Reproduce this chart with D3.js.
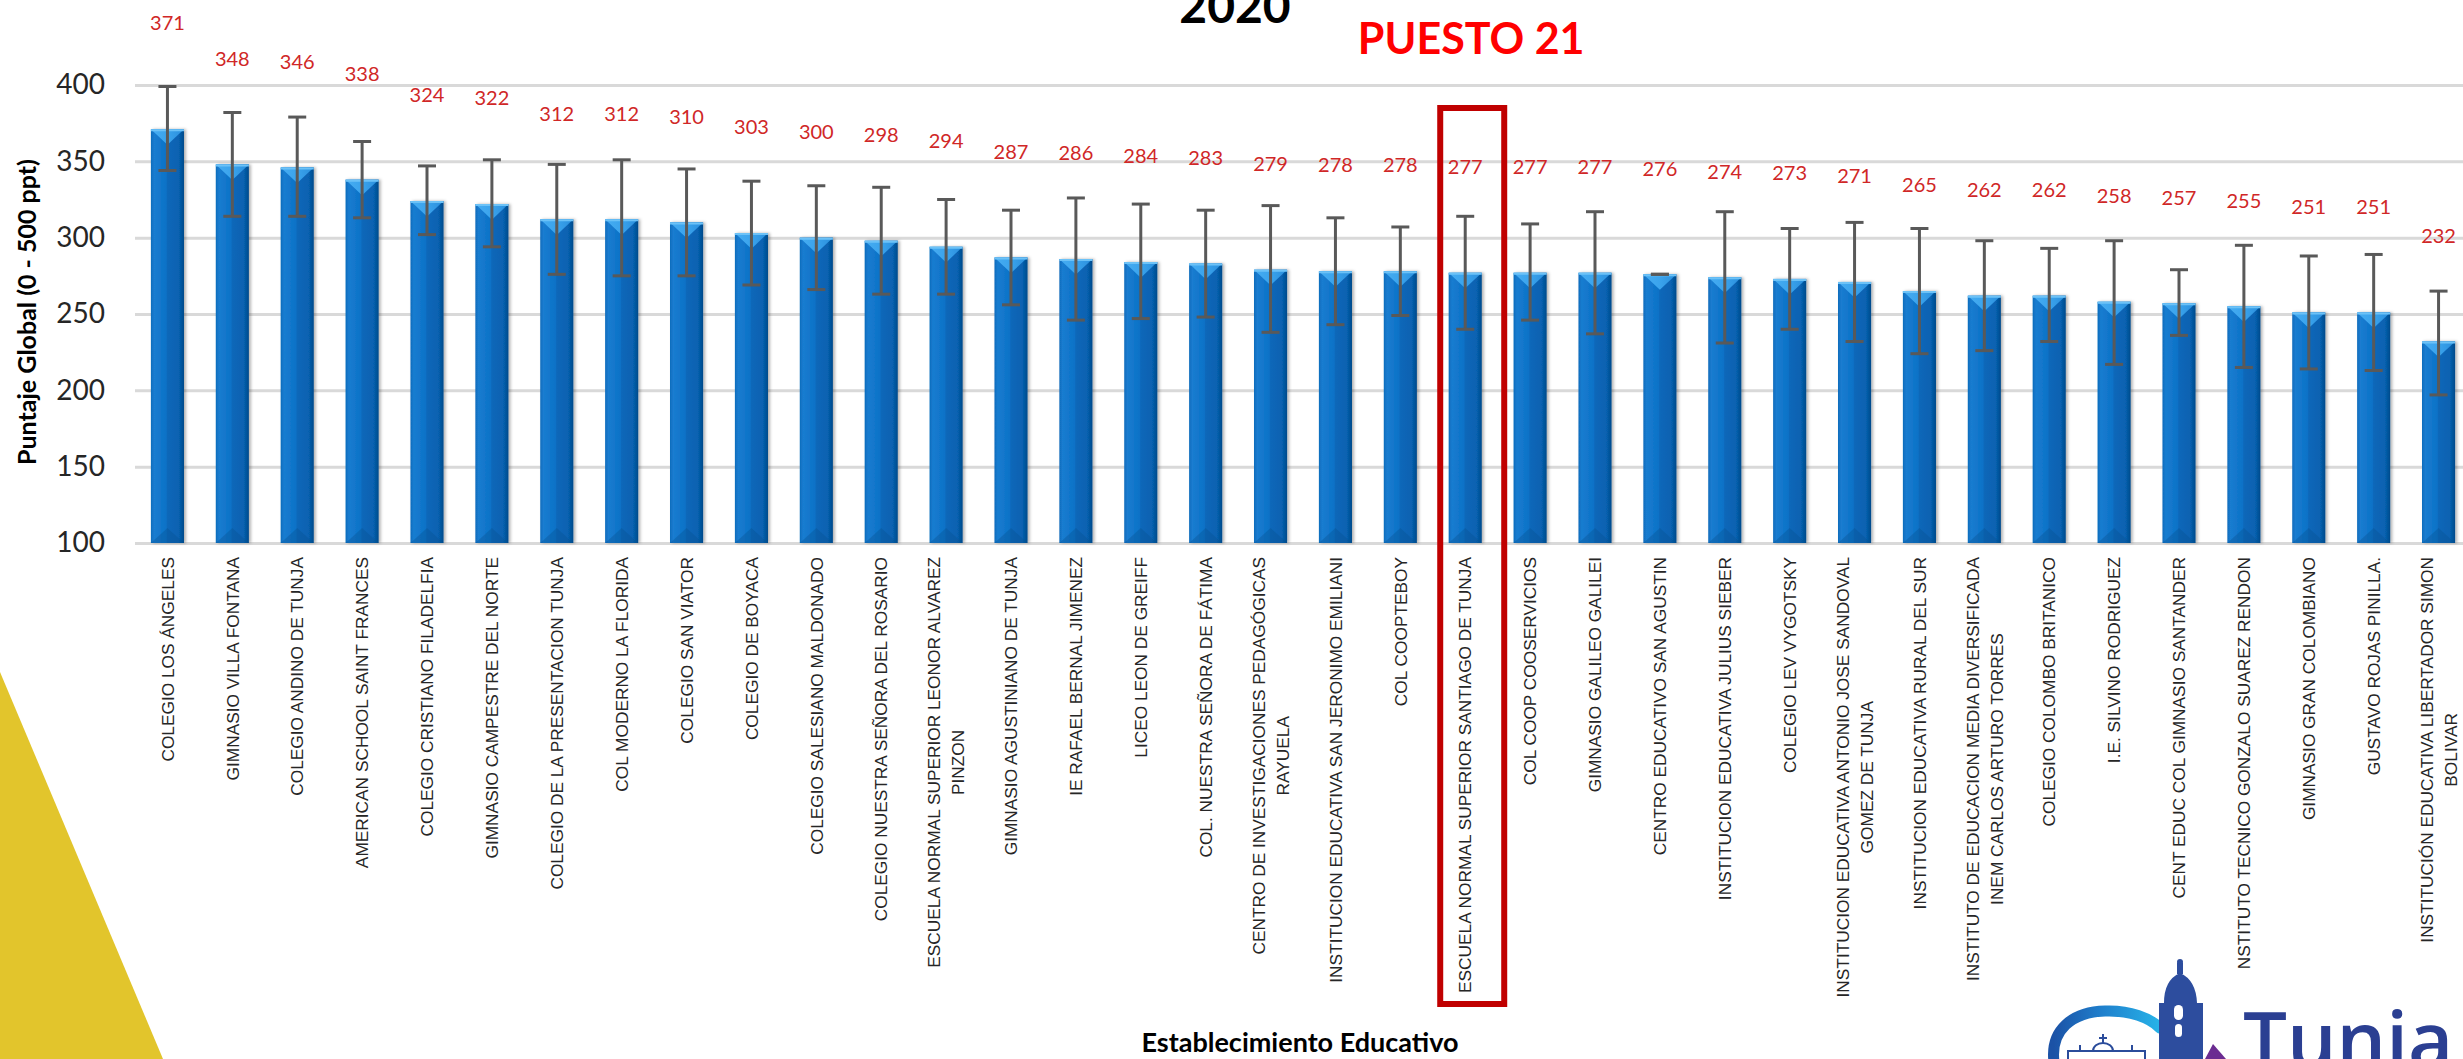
<!DOCTYPE html>
<html>
<head>
<meta charset="utf-8">
<script src="https://cdn.jsdelivr.net/npm/d3@7"></script>
<style>
  body { margin: 0; background: #fff; overflow: hidden; }
</style>
</head>
<body>
<svg id="chart" width="2463" height="1059"></svg>
<script>
// puntaje global por establecimiento educativo (Tunja 2020)
const schools = [
  "COLEGIO LOS ÁNGELES",
  "GIMNASIO VILLA FONTANA",
  "COLEGIO ANDINO DE TUNJA",
  "AMERICAN SCHOOL SAINT FRANCES",
  "COLEGIO CRISTIANO FILADELFIA",
  "GIMNASIO CAMPESTRE DEL NORTE",
  "COLEGIO DE LA PRESENTACION TUNJA",
  "COL MODERNO LA FLORIDA",
  "COLEGIO SAN VIATOR",
  "COLEGIO DE BOYACA",
  "COLEGIO SALESIANO MALDONADO",
  "COLEGIO NUESTRA SEÑORA DEL ROSARIO",
  "ESCUELA NORMAL SUPERIOR LEONOR ALVAREZ\nPINZON",
  "GIMNASIO AGUSTINIANO DE TUNJA",
  "IE RAFAEL BERNAL JIMENEZ",
  "LICEO LEON DE GREIFF",
  "COL. NUESTRA SEÑORA DE FÁTIMA",
  "CENTRO DE INVESTIGACIONES PEDAGÓGICAS\nRAYUELA",
  "INSTITUCION EDUCATIVA SAN JERONIMO EMILIANI",
  "COL COOPTEBOY",
  "ESCUELA NORMAL SUPERIOR SANTIAGO DE TUNJA",
  "COL COOP COOSERVICIOS",
  "GIMNASIO GALILEO GALILEI",
  "CENTRO EDUCATIVO SAN AGUSTIN",
  "INSTITUCION EDUCATIVA JULIUS SIEBER",
  "COLEGIO LEV VYGOTSKY",
  "INSTITUCION EDUCATIVA ANTONIO JOSE SANDOVAL\nGOMEZ DE TUNJA",
  "INSTITUCION EDUCATIVA RURAL DEL SUR",
  "INSTITUTO DE EDUCACION MEDIA DIVERSIFICADA\nINEM CARLOS ARTURO TORRES",
  "COLEGIO COLOMBO BRITANICO",
  "I.E. SILVINO RODRIGUEZ",
  "CENT EDUC COL GIMNASIO SANTANDER",
  "INSTITUTO TECNICO GONZALO SUAREZ RENDON",
  "GIMNASIO GRAN COLOMBIANO",
  "GUSTAVO ROJAS PINILLA.",
  "INSTITUCIÓN EDUCATIVA LIBERTADOR SIMON\nBOLIVAR"
];
const scores = [371, 348, 346, 338, 324, 322, 312, 312, 310, 303, 300, 298, 294, 287, 286, 284, 283, 279,
                278, 278, 277, 277, 277, 276, 274, 273, 271, 265, 262, 262, 258, 257, 255, 251, 251, 232];
const errHigh = [399, 382, 379, 363, 347, 351, 348, 351, 345, 337, 334, 333, 325, 318, 326, 322, 318, 321,
                 313, 307, 314, 309, 317, 276, 317, 306, 310, 306, 298, 293, 298, 279, 295, 288, 289, 265];
const errLow = [344, 314, 314, 313, 302, 294, 276, 275, 275, 269, 266, 263, 263, 256, 246, 247, 248, 238,
                243, 249, 240, 246, 237, 276, 231, 240, 232, 224, 226, 232, 217, 236, 215, 214, 213, 197];
const yTicks = [100, 150, 200, 250, 300, 350, 400];
const highlightIdx = 20; // puesto 21

const svg = d3.select("#chart");
const W = +svg.attr("width"), H = +svg.attr("height");
const plotLeft = 135, plotRight = 2471, plotTop = 85, plotBottom = 543;

const x = d3.scaleBand()
  .domain(schools)
  .range([plotLeft, plotRight])
  .paddingInner(0.49)
  .paddingOuter(0.245);

const y = d3.scaleLinear()
  .domain([100, 400])
  .range([plotBottom, plotTop]);

const defs = svg.append("defs");
const bodyGrad = defs.append("linearGradient").attr("id", "barBody")
  .attr("x1", "0%").attr("x2", "100%").attr("y1", "0%").attr("y2", "0%");
[["0%", "#0d6cbc"], ["10%", "#1a7cd0"], ["46%", "#0b72c7"], ["50%", "#0867b9"],
 ["84%", "#0762b1"], ["100%", "#044a8b"]].forEach(s =>
  bodyGrad.append("stop").attr("offset", s[0]).attr("stop-color", s[1]));

const capGrad = defs.append("linearGradient").attr("id", "barCap")
  .attr("x1", "0%").attr("x2", "100%").attr("y1", "0%").attr("y2", "0%");
[["0%", "#47adf2"], ["50%", "#3aa3ec"], ["100%", "#2a8edc"]].forEach(s =>
  capGrad.append("stop").attr("offset", s[0]).attr("stop-color", s[1]));

defs.append("filter").attr("id", "shadow").attr("x", "-20%").attr("width", "150%")
  .append("feDropShadow")
  .attr("dx", 2).attr("dy", 0).attr("stdDeviation", 1.5)
  .attr("flood-color", "#000").attr("flood-opacity", 0.3);

const arcGrad = defs.append("linearGradient").attr("id", "arcGrad")
  .attr("x1", "0%").attr("x2", "100%").attr("y1", "0%").attr("y2", "0%");
[["0%", "#1b52a6"], ["45%", "#1f7fcc"], ["100%", "#27b3e8"]].forEach(s =>
  arcGrad.append("stop").attr("offset", s[0]).attr("stop-color", s[1]));

// yellow corner decoration
svg.append("polygon")
  .attr("points", "0,672 163,1059 0,1059")
  .attr("fill", "#e2c52c");

// y axis with gridlines
const yAxis = svg.append("g")
  .attr("transform", `translate(${plotLeft},0)`)
  .call(d3.axisLeft(y).tickValues(yTicks).tickSize(-(W - plotLeft)).tickPadding(30));
yAxis.select(".domain").remove();
yAxis.selectAll(".tick line").attr("stroke", "#d9d9d9").attr("stroke-width", 3);
yAxis.selectAll(".tick text")
  .attr("font-family", "Lato, sans-serif")
  .attr("font-size", 28)
  .attr("fill", "#262626");

svg.append("text")
  .attr("transform", `translate(36,312) rotate(-90)`)
  .attr("text-anchor", "middle")
  .attr("font-family", "Lato, sans-serif")
  .attr("font-weight", "bold")
  .attr("font-size", 25)
  .attr("fill", "#000")
  .text("Puntaje Global (0 - 500 ppt)");

// bars
const bw = x.bandwidth();
const bars = svg.append("g").selectAll("g")
  .data(schools)
  .enter().append("g");

bars.append("rect")
  .attr("x", d => x(d))
  .attr("y", (d, i) => y(scores[i]))
  .attr("width", bw)
  .attr("height", (d, i) => y(100) - y(scores[i]))
  .attr("fill", "url(#barBody)")
  .attr("filter", "url(#shadow)");

bars.append("polygon")
  .attr("points", (d, i) => {
    const x0 = x(d), t = y(scores[i]);
    return `${x0},${t} ${x0 + bw},${t} ${x0 + bw / 2},${t + bw * 0.47}`;
  })
  .attr("fill", "url(#barCap)");

bars.append("line")
  .attr("x1", d => x(d)).attr("x2", d => x(d) + bw)
  .attr("y1", (d, i) => y(scores[i]) + 1).attr("y2", (d, i) => y(scores[i]) + 1)
  .attr("stroke", "#6cc2f7").attr("stroke-width", 2);

bars.append("polygon")
  .attr("points", d => {
    const x0 = x(d), b = y(100);
    return `${x0},${b} ${x0 + bw},${b} ${x0 + bw / 2},${b - bw * 0.45}`;
  })
  .attr("fill", "#05508f").attr("opacity", 0.35);

// error bars
const err = svg.append("g").attr("stroke", "#595959").attr("stroke-width", 3);
schools.forEach((d, i) => {
  const cx = x(d) + bw / 2;
  if (errHigh[i] !== errLow[i]) {
    err.append("line").attr("x1", cx).attr("x2", cx)
      .attr("y1", y(errHigh[i])).attr("y2", y(errLow[i]));
  }
  [errHigh[i], errLow[i]].forEach(v => {
    err.append("line").attr("x1", cx - 9).attr("x2", cx + 9)
      .attr("y1", y(v)).attr("y2", y(v));
  });
});

// data labels
svg.append("g").selectAll("text")
  .data(schools)
  .enter().append("text")
  .attr("x", d => x(d) + bw / 2)
  .attr("y", (d, i) => y(scores[i]) - 106)
  .attr("dy", "0.36em")
  .attr("text-anchor", "middle")
  .attr("font-family", "Lato, sans-serif")
  .attr("font-size", 20)
  .attr("fill", "#d02727")
  .text((d, i) => scores[i]);

// category labels (rotated, lines centred, block ending at the axis)
const labelTop = 557, lineH = 24;
const labels = svg.append("g").selectAll("g")
  .data(schools)
  .enter().append("g")
  .attr("transform", d => `translate(${x(d) + bw / 2},${labelTop}) rotate(-90)`);

labels.each(function(d) {
  const g = d3.select(this);
  const lines = d.split("\n");
  const texts = lines.map((ln, k) => g.append("text")
    .attr("y", (k - (lines.length - 1) / 2) * lineH)
    .attr("dy", "0.36em")
    .attr("text-anchor", "middle")
    .attr("font-family", "'Liberation Sans', Arial, sans-serif")
    .attr("font-size", 17.3)
    .attr("fill", "#262626")
    .text(ln));
  const maxLen = d3.max(texts, t => t.node().getComputedTextLength());
  texts.forEach(t => t.attr("x", -maxLen / 2));
});

svg.append("text")
  .attr("x", 1300)
  .attr("y", 1052)
  .attr("text-anchor", "middle")
  .attr("font-family", "Lato, sans-serif")
  .attr("font-weight", "bold")
  .attr("font-size", 27)
  .attr("fill", "#000")
  .text("Establecimiento Educativo");

// title (cut at the top of the slide) and highlight
svg.append("text")
  .attr("x", 1235)
  .attr("y", 23)
  .attr("text-anchor", "middle")
  .attr("font-family", "Lato, sans-serif")
  .attr("font-weight", "bold")
  .attr("font-size", 48)
  .attr("fill", "#000")
  .text("2020");

const hx = x(schools[highlightIdx]) + bw / 2;
svg.append("text")
  .attr("x", hx + 6)
  .attr("y", 54)
  .attr("text-anchor", "middle")
  .attr("font-family", "Lato, sans-serif")
  .attr("font-weight", "bold")
  .attr("font-size", 43)
  .attr("fill", "#ff0000")
  .text("PUESTO 21");

svg.append("rect")
  .attr("x", hx - 25)
  .attr("y", 108)
  .attr("width", 64)
  .attr("height", 896)
  .attr("fill", "none")
  .attr("stroke", "#c00000")
  .attr("stroke-width", 6);

// Tunja logo, bottom right
const logo = svg.append("g");
logo.append("rect").attr("x", 2045).attr("y", 968).attr("width", W - 2045).attr("height", H - 968)
  .attr("fill", "#fff");
logo.append("path")
  .attr("d", "M2054,1062 C2050,1030 2072,1012 2105,1011 C2130,1010 2150,1018 2160,1028")
  .attr("fill", "none").attr("stroke", "url(#arcGrad)").attr("stroke-width", 11)
  .attr("stroke-linecap", "round");
logo.append("path")
  .attr("d", "M2068,1059 L2068,1051 L2145,1051 L2145,1059 M2080,1051 L2080,1045 M2132,1051 L2132,1045 M2093,1051 A10,8 0 0 1 2113,1051 M2103,1043 L2103,1034 M2099,1038 L2107,1038")
  .attr("fill", "none").attr("stroke", "#2b4c9b").attr("stroke-width", 2);
logo.append("path")
  .attr("d", "M2159,1059 L2159,1003 L2164,1003 Q2164,980 2180,973 Q2196,980 2197,1003 L2203,1003 L2203,1059 Z")
  .attr("fill", "#2d4d9e");
logo.append("rect").attr("x", 2177).attr("y", 963).attr("width", 6).attr("height", 11).attr("fill", "#2d4d9e");
logo.append("circle").attr("cx", 2180).attr("cy", 962).attr("r", 3).attr("fill", "#2d4d9e");
logo.append("rect").attr("x", 2174).attr("y", 1005).attr("width", 9).attr("height", 15).attr("rx", 4.5)
  .attr("fill", "#fff");
logo.append("rect").attr("x", 2175).attr("y", 1024).attr("width", 7).attr("height", 13).attr("rx", 3.5)
  .attr("fill", "#fff");
logo.append("polygon").attr("points", "2205,1059 2213,1044 2226,1059").attr("fill", "#6b2c91");
logo.append("text")
  .attr("x", 2243)
  .attr("y", 1068)
  .attr("font-family", "'Open Sans', sans-serif")
  .attr("font-weight", 600)
  .attr("font-size", 78)
  .attr("fill", "#2b3f92")
  .text("Tunja");
</script>
</body>
</html>
